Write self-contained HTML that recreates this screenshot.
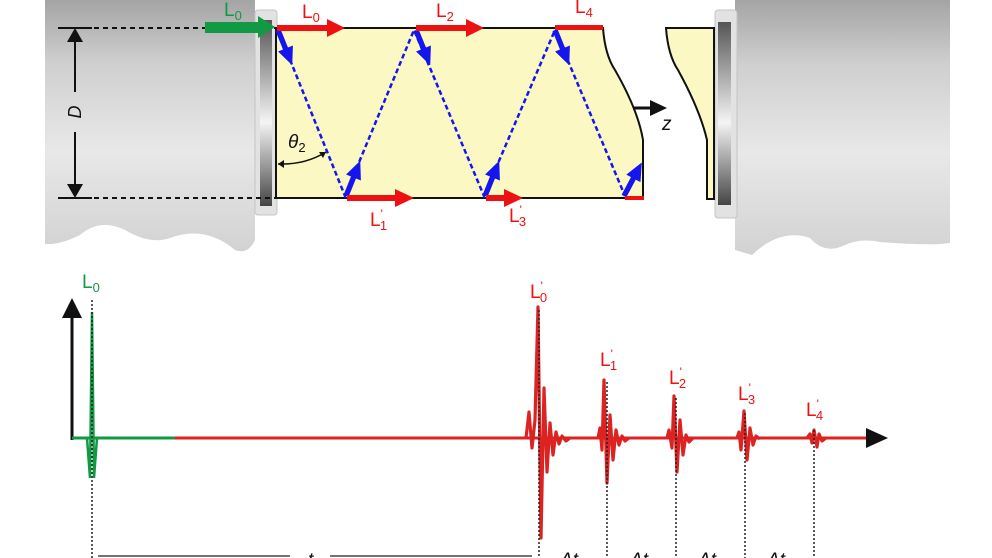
<!DOCTYPE html>
<html><head><meta charset="utf-8"><style>
html,body{margin:0;padding:0;background:#fff;width:992px;height:558px;overflow:hidden}
svg{display:block}
text{font-family:"Liberation Sans",sans-serif}
</style></head><body>
<svg width="992" height="558" viewBox="0 0 992 558" xmlns="http://www.w3.org/2000/svg">
<defs>
<linearGradient id="cyl" x1="0" y1="0" x2="0" y2="1">
<stop offset="0" stop-color="#a4a4a4"/><stop offset="0.25" stop-color="#cfcfcf"/><stop offset="0.6" stop-color="#e8e8e8"/><stop offset="1" stop-color="#d2d2d2"/>
</linearGradient>
<linearGradient id="fl" x1="0" y1="0" x2="0" y2="1">
<stop offset="0" stop-color="#555"/><stop offset="0.55" stop-color="#f4f4f4"/><stop offset="1" stop-color="#444"/>
</linearGradient>
<g id="barr"><rect x="0" y="-2.7" width="24" height="5.4" fill="#1515ee"/><path d="M20,-8 L38,0 L20,8Z" fill="#1515ee"/></g>
</defs>
<!-- left cylinder -->
<path d="M45,0 H255 V240 Q248,255 235,250 Q205,225 170,238 Q150,245 125,230 Q100,218 80,235 Q60,245 45,244 Z" fill="url(#cyl)"/>
<rect x="255" y="10" width="22" height="205" rx="3" fill="#e2e2e2" stroke="#c4c4c4"/>
<rect x="260" y="20" width="12" height="186" fill="url(#fl)"/>
<!-- right cylinder -->
<path d="M735,0 H950 V243 Q930,246 880,242 Q860,238 845,245 Q825,255 810,238 Q780,228 752,255 L735,250 Z" fill="url(#cyl)"/>
<rect x="715" y="10" width="22" height="208" rx="3" fill="#e2e2e2" stroke="#c4c4c4"/>
<rect x="718" y="22" width="13" height="183" fill="url(#fl)"/>
<!-- tube -->
<path d="M276,28 H603 Q605,55 615,70 Q638,110 643,140 V198 H276 Z" fill="#fcf8c4" stroke="#111" stroke-width="2"/>
<path d="M714,28 H666 Q668,55 678,70 Q700,110 707,140 V199 H714 Z" fill="#fcf8c4" stroke="#111" stroke-width="2"/>
<!-- dashed D lines -->
<g stroke="#111" stroke-width="2" stroke-dasharray="5,4" fill="none">
<line x1="58" y1="28" x2="275" y2="28"/><line x1="58" y1="198" x2="275" y2="198"/>
<line x1="276" y1="28" x2="276" y2="198"/>
</g>
<line x1="58" y1="28" x2="92" y2="28" stroke="#111" stroke-width="2"/>
<line x1="58" y1="198" x2="92" y2="198" stroke="#111" stroke-width="2"/>
<line x1="75" y1="30" x2="75" y2="92" stroke="#111" stroke-width="2"/>
<line x1="75" y1="132" x2="75" y2="196" stroke="#111" stroke-width="2"/>
<path d="M67,42 L75,28 L83,42Z M67,184 L75,198 L83,184Z" fill="#111"/>
<text x="81" y="112" font-size="18" font-style="italic" transform="rotate(-90 81 112)" text-anchor="middle" fill="#111">D</text>
<!-- theta -->
<path d="M278,164 Q305,165 326,152" fill="none" stroke="#111" stroke-width="1.6"/>
<path d="M278,164 l6,-4 v8z M326,152 l-7,0 l4,6z" fill="#111"/>
<text x="288" y="148" font-size="19" font-family="Liberation Serif" font-style="italic" fill="#111">θ<tspan font-size="13" dy="4" font-style="normal">2</tspan></text>
<!-- blue zigzag -->
<polyline points="278,30 345,196 414,30 484,196 555,30 625,196" fill="none" stroke="#1515ee" stroke-width="2.5" stroke-dasharray="5,3"/>
<use href="#barr" transform="translate(278,30) rotate(68)"/>
<use href="#barr" transform="translate(416,30) rotate(68)"/>
<use href="#barr" transform="translate(555,30) rotate(68)"/>
<use href="#barr" transform="translate(346,196) rotate(-68)"/>
<use href="#barr" transform="translate(485,196) rotate(-68)"/>
<use href="#barr" transform="translate(624,196) rotate(-62)"/>
<!-- red arrows -->
<g fill="#ee1111">
<rect x="277" y="25" width="52" height="6"/><path d="M327,19 L345,28 L327,37Z"/>
<rect x="416" y="25" width="52" height="6"/><path d="M466,19 L484,28 L466,37Z"/>
<rect x="555" y="25" width="48" height="5"/>
<rect x="347" y="195" width="50" height="6"/><path d="M395,189 L414,198 L395,207Z"/>
<rect x="486" y="195" width="20" height="6"/><path d="M504,189 L523,198 L504,207Z"/>
<rect x="625" y="196" width="19" height="4"/>
</g>
<rect x="205" y="22" width="55" height="11" fill="#119944"/><path d="M258,16 L275,27 L258,38Z" fill="#119944"/>
<g font-size="19" fill="#ee1111">
<text x="302" y="18">L<tspan font-size="13" dy="4">0</tspan></text>
<text x="436" y="17">L<tspan font-size="13" dy="4">2</tspan></text>
<text x="575" y="13">L<tspan font-size="13" dy="4">4</tspan></text>
<text x="370" y="226">L<tspan font-size="12" dy="-8">'</tspan><tspan font-size="13" dx="-3" dy="12">1</tspan></text>
<text x="509" y="222">L<tspan font-size="12" dy="-8">'</tspan><tspan font-size="13" dx="-3" dy="12">3</tspan></text>
</g>
<text x="224" y="16" font-size="19" fill="#119944">L<tspan font-size="13" dy="4">0</tspan></text>
<!-- z arrow -->
<line x1="633" y1="108" x2="655" y2="108" stroke="#111" stroke-width="3"/>
<path d="M650,100 L667,108 L650,116Z" fill="#111"/>
<text x="662" y="130" font-size="19" font-style="italic" fill="#111">z</text>
<!-- graph -->
<line x1="72" y1="440" x2="72" y2="318" stroke="#111" stroke-width="3"/>
<path d="M62,318 L72,298 L82,318Z" fill="#111"/>
<line x1="72" y1="438" x2="175" y2="438" stroke="#119944" stroke-width="3"/>
<line x1="175" y1="438" x2="870" y2="438" stroke="#dd2222" stroke-width="3"/>
<path d="M866,428 L888,438 L866,448Z" fill="#111"/>
<path d="M87,438 L90,478 L92,312 L94,478 L97,438" fill="none" stroke="#119944" stroke-width="2.5"/>
<g fill="none" stroke="#dd2222" stroke-width="3.2" stroke-linejoin="round">
<polyline points="526,438 529,412 532,448 535,420 538,307 541,538 544,388 547,472 550,423 553,455 556,432 559,444 562,436 566,441 570,438"/>
<polyline points="598,438 600,428 602,450 604,380 607,483 610,415 613,460 616,430 619,445 622,436 625,441 629,438"/>
<polyline points="667,438 669,430 672,448 674,396 677,472 680,420 683,455 686,435 689,442 693,438"/>
<polyline points="737,438 739,432 741,450 744,411 747,460 750,428 753,445 756,436 760,439"/>
<polyline points="807,438 810,434 812,443 814,430 817,447 819,434 822,441 826,438"/>
</g>
<g stroke="#222" stroke-width="1.5" stroke-dasharray="2,2">
<line x1="92" y1="300" x2="92" y2="558"/>
<line x1="539" y1="310" x2="539" y2="558"/>
<line x1="607" y1="382" x2="607" y2="558"/>
<line x1="676" y1="398" x2="676" y2="558"/>
<line x1="745" y1="413" x2="745" y2="558"/>
<line x1="814" y1="430" x2="814" y2="558"/>
</g>
<g stroke="#222" stroke-width="1.2">
<line x1="98" y1="556" x2="290" y2="556"/><line x1="330" y1="556" x2="532" y2="556"/>
</g>
<g font-size="19" font-style="italic" fill="#111">
<text x="308" y="566">t</text>
<text x="560" y="566">Δt</text><text x="630" y="566">Δt</text><text x="698" y="566">Δt</text><text x="767" y="566">Δt</text>
</g>
<text x="82" y="288" font-size="19" fill="#119944">L<tspan font-size="13" dy="4">0</tspan></text>
<g font-size="19" fill="#ee1111">
<text x="530" y="298">L<tspan font-size="12" dy="-8">'</tspan><tspan font-size="13" dx="-3" dy="12">0</tspan></text>
<text x="600" y="366">L<tspan font-size="12" dy="-8">'</tspan><tspan font-size="13" dx="-3" dy="12">1</tspan></text>
<text x="669" y="384">L<tspan font-size="12" dy="-8">'</tspan><tspan font-size="13" dx="-3" dy="12">2</tspan></text>
<text x="738" y="400">L<tspan font-size="12" dy="-8">'</tspan><tspan font-size="13" dx="-3" dy="12">3</tspan></text>
<text x="806" y="416">L<tspan font-size="12" dy="-8">'</tspan><tspan font-size="13" dx="-3" dy="12">4</tspan></text>
</g>
</svg>
</body></html>
